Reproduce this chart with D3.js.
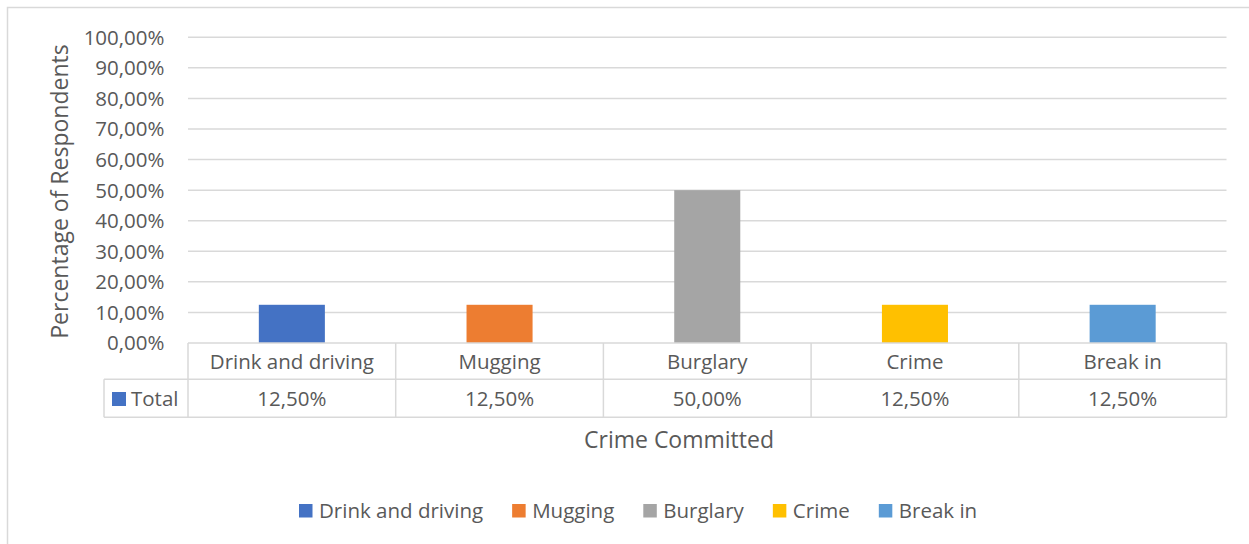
<!DOCTYPE html>
<html>
<head>
<meta charset="utf-8">
<script src="https://cdn.jsdelivr.net/npm/d3@7"></script>
<style>
  html, body { margin: 0; padding: 0; background: #fff; }
  svg { display: block; }
  text { font-family: "Open Sans", sans-serif; fill: #595959; }
</style>
</head>
<body>
<svg id="chart" width="1249" height="544"></svg>
<script>
const categories = ["Drink and driving", "Mugging", "Burglary", "Crime", "Break in"];
const values = [0.125, 0.125, 0.50, 0.125, 0.125];
const colors = ["#4472C4", "#ED7D31", "#A5A5A5", "#FFC000", "#5B9BD5"];
const yTicks = [0, 0.1, 0.2, 0.3, 0.4, 0.5, 0.6, 0.7, 0.8, 0.9, 1.0];
const seriesName = "Total";
const xTitle = "Crime Committed";
const yTitle = "Percentage of Respondents";

const locale = d3.formatLocale({decimal: ",", thousands: ".", grouping: [3], currency: ["", "€"]});
const fmt = locale.format(".2%");

const W = 1249, H = 544;
const svg = d3.select("#chart");
const FS = 20.5;
const TFS = 23;
const grid = "#d9d9d9";

// outer chart border (top + left visible)
svg.append("rect").attr("x", 7.5).attr("y", 7.5).attr("width", W + 20).attr("height", H + 20)
  .attr("fill", "none").attr("stroke", grid).attr("stroke-width", 1.5);

const plot = {left: 188, right: 1226.5, top: 37.3, bottom: 343};
const x = d3.scaleBand().domain(categories).range([plot.left, plot.right]).padding(0);
const y = d3.scaleLinear().domain([0, 1]).range([plot.bottom, plot.top]);

// gridlines
svg.append("g").selectAll("line").data(yTicks.filter(d => d > 0)).join("line")
  .attr("x1", plot.left).attr("x2", plot.right)
  .attr("y1", d => y(d)).attr("y2", d => y(d))
  .attr("stroke", grid).attr("stroke-width", 1.5);

// y tick labels
svg.append("g").selectAll("text").data(yTicks).join("text")
  .attr("x", 164.5).attr("y", d => y(d)).attr("dy", "0.36em")
  .attr("text-anchor", "end").attr("font-size", FS)
  .text(d => fmt(d));

// bars
const barW = x.bandwidth() * 0.318;
svg.append("g").selectAll("rect").data(categories).join("rect")
  .attr("x", d => x(d) + x.bandwidth() / 2 - barW / 2)
  .attr("width", barW)
  .attr("y", (d, i) => y(values[i]))
  .attr("height", (d, i) => y(0) - y(values[i]))
  .attr("fill", (d, i) => colors[i]);

// data table
const row1Top = plot.bottom, row1Bot = 379.3, row2Bot = 417.3, tableLeft = 104;
const tg = svg.append("g").attr("stroke", grid).attr("stroke-width", 1.5);
tg.append("line").attr("x1", plot.left).attr("x2", plot.right).attr("y1", row1Top).attr("y2", row1Top);
tg.append("line").attr("x1", tableLeft).attr("x2", plot.right).attr("y1", row1Bot).attr("y2", row1Bot);
tg.append("line").attr("x1", tableLeft).attr("x2", plot.right).attr("y1", row2Bot).attr("y2", row2Bot);
tg.append("line").attr("x1", tableLeft).attr("x2", tableLeft).attr("y1", row1Bot).attr("y2", row2Bot);
const bounds = categories.map(c => x(c)).concat([plot.right]);
tg.selectAll("line.v").data(bounds).join("line").attr("class", "v")
  .attr("x1", d => d).attr("x2", d => d).attr("y1", row1Top).attr("y2", row2Bot);

svg.append("g").selectAll("text").data(categories).join("text")
  .attr("x", d => x(d) + x.bandwidth() / 2).attr("y", (row1Top + row1Bot) / 2).attr("dy", "0.36em")
  .attr("text-anchor", "middle").attr("font-size", FS).text(d => d);
svg.append("g").selectAll("text").data(categories).join("text")
  .attr("x", d => x(d) + x.bandwidth() / 2).attr("y", (row1Bot + row2Bot) / 2).attr("dy", "0.36em")
  .attr("text-anchor", "middle").attr("font-size", FS).text((d, i) => fmt(values[i]));

// series legend key in table
svg.append("rect").attr("x", 112).attr("y", 392).attr("width", 14).attr("height", 14).attr("fill", colors[0]);
svg.append("text").attr("x", 131).attr("y", (row1Bot + row2Bot) / 2).attr("dy", "0.36em")
  .attr("font-size", FS).text(seriesName);

// axis titles
svg.append("text").attr("x", 679).attr("y", 448).attr("text-anchor", "middle")
  .attr("font-size", TFS).text(xTitle);
svg.append("text").attr("transform", "translate(68,191.5) rotate(-90)").attr("text-anchor", "middle")
  .attr("font-size", TFS).text(yTitle);

// bottom legend
const lg = svg.append("g");
let lx = 299;
categories.forEach((c, i) => {
  lg.append("rect").attr("x", lx).attr("y", 504).attr("width", 13.5).attr("height", 13.5).attr("fill", colors[i]);
  const t = lg.append("text").attr("x", lx + 20).attr("y", 518).attr("font-size", FS).text(c);
  lx += 20 + t.node().getComputedTextLength() + 29;
});
</script>
</body>
</html>
